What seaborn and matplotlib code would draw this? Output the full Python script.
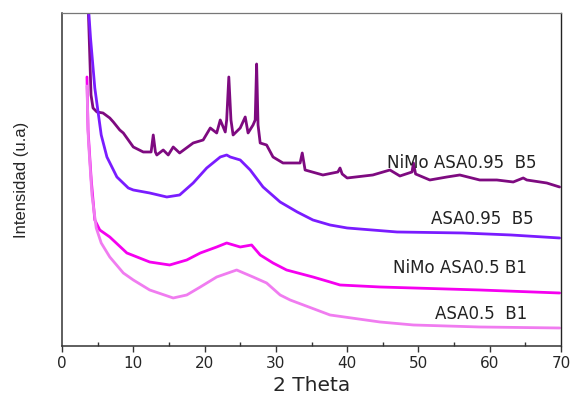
import numpy as np
import pandas as pd
import matplotlib
matplotlib.use("Agg")
import matplotlib.pyplot as plt
from matplotlib.ticker import MultipleLocator
import seaborn as sns

# ---- data (2 Theta vs. intensity, arbitrary units) ----
x_nimo_095 = [3.65, 4.07, 4.35, 4.9, 5.75, 6.7, 7.2, 8.1, 8.6, 10, 11.4, 12.5, 12.8, 13.1,
              13.3, 14.2, 14.9, 15.6, 16.5, 18.4, 19.8, 20.8, 21.7, 22.2, 22.9, 23.1, 23.4,
              23.7, 24, 25, 25.7, 26.1, 26.8, 27.1, 27.3, 27.5, 27.8, 28.7, 29.6, 31, 33.4,
              33.7, 34.1, 36.6, 38.7, 39, 39.3, 40, 43.6, 46, 47.4, 49.1, 49.3, 49.6, 51.6,
              54, 55.8, 58.6, 61, 63.3, 64.7, 65.2, 68, 69.8]
y_nimo_095 = [345, 251, 238, 234, 233, 228, 224, 216, 213, 199, 194, 194, 211, 194,
              191, 196, 191, 199, 193, 203, 206, 218, 213, 226, 214, 226, 269,
              226, 211, 218, 229, 213, 221, 226, 282, 221, 203, 201, 189, 183, 183,
              193, 176, 171, 174, 178, 172, 168, 171, 176, 170, 174, 183, 172, 166,
              169, 171, 166, 166, 164, 168, 166, 163, 159]

x_asa_095 = [3.65, 4.0, 4.6, 5.5, 6.3, 7.7, 9.3, 10, 12.3, 14.7, 16.5, 18.4, 20.3, 22.2,
             23.1, 23.6, 25, 26.4, 28.2, 30.6, 33, 35.2, 37.6, 40, 47, 56.2, 63, 69.8]
y_asa_095 = [345, 308, 258, 211, 189, 169, 158, 156, 153, 149, 151, 163, 178, 189,
             191, 189, 186, 176, 159, 144, 134, 126, 121, 118, 114, 113, 111, 108]

x_nimo_05 = [3.5, 3.65, 4.1, 4.6, 5.3, 6.7, 9.1, 12.3, 15.1, 17.5, 19.4, 21.7, 23.1, 25,
             26.6, 27.8, 29.6, 31.5, 35.2, 37.6, 39, 44.6, 49.3, 58.6, 69.8]
y_nimo_05 = [269, 216, 166, 126, 116, 109, 93, 84, 81, 86, 93, 99, 103, 99,
             101, 91, 83, 76, 69, 64, 61, 59, 58, 56, 53]

x_asa_05 = [3.5, 3.7, 4.2, 4.8, 5.5, 6.7, 8.6, 10, 12.3, 15.6, 17.5, 19.4, 21.7, 24.5,
            26.8, 28.7, 30.6, 32, 37.6, 44.6, 49.3, 58.6, 69.8]
y_asa_05 = [260, 206, 151, 118, 103, 89, 73, 66, 56, 48, 51, 59, 69, 76,
            69, 63, 51, 46, 31, 24, 21, 19, 18]

series_names = ["NiMo ASA0.95  B5", "ASA0.95  B5", "NiMo ASA0.5 B1", "ASA0.5  B1"]
series_colors = ["#7E0A80", "#7A1CFF", "#F500F0", "#F07CF0"]
label_x = [66.6, 66.1, 65.2, 65.2]
label_y = [183, 127, 78, 32]
xticks = [0, 10, 20, 30, 40, 50, 60, 70]

frames = []
for name, xs, ys in zip(series_names,
                        [x_nimo_095, x_asa_095, x_nimo_05, x_asa_05],
                        [y_nimo_095, y_asa_095, y_nimo_05, y_asa_05]):
    assert len(xs) == len(ys)
    frames.append(pd.DataFrame({"theta": xs, "intensity": ys, "sample": name}))
df = pd.concat(frames, ignore_index=True)

sns.set_style("white")
plt.rcParams["font.family"] = ["DejaVu Sans"]

fig = plt.figure(figsize=(5.71, 3.96), dpi=100)
ax = fig.add_axes([0.1086, 0.1263, 0.8739, 0.8409])

sns.lineplot(data=df, x="theta", y="intensity", hue="sample",
             hue_order=series_names, palette=series_colors,
             sort=False, estimator=None, linewidth=2.0, legend=False, ax=ax)

for name, c, lx, ly in zip(series_names, series_colors, label_x, label_y):
    ax.text(lx, ly, name, ha="right", va="center", fontsize=12, color="#222222")

ax.set_xlim(0, 70)
ax.set_ylim(0, 333)
ax.set_xticks(xticks)
ax.set_xticklabels([str(t) for t in xticks], fontsize=11)
ax.xaxis.set_minor_locator(MultipleLocator(5))
ax.set_yticks([])
ax.tick_params(axis="x", which="major", direction="out", length=4, width=1,
               color="#333333", bottom=True, pad=3)
ax.tick_params(axis="x", which="minor", direction="in", length=3, width=1,
               color="#333333", bottom=True)

ax.set_xlabel("2 Theta", fontsize=14.5, labelpad=4)
ax.set_ylabel("Intensidad (u.a)", fontsize=12, labelpad=24,
              family=["Liberation Sans Narrow", "Liberation Sans", "DejaVu Sans"])

for side in ["left", "bottom"]:
    ax.spines[side].set_color("#333333")
    ax.spines[side].set_linewidth(1.1)
ax.spines["top"].set_color("#777777")
ax.spines["top"].set_linewidth(0.9)
ax.spines["right"].set_color("#222222")
ax.spines["right"].set_linewidth(1.0)
for s in ax.spines.values():
    s.set_visible(True)

fig.savefig("out.png", dpi=100)
